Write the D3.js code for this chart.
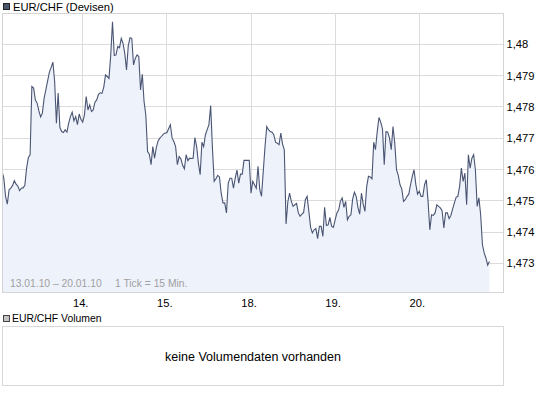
<!DOCTYPE html>
<html><head><meta charset="utf-8">
<script src="https://cdn.jsdelivr.net/npm/d3@7"></script>
<style>
body{margin:0;background:#fff}
svg{display:block;font-family:"Liberation Sans",Arial,sans-serif}
</style>
</head><body><svg id="c" width="545" height="395"></svg>
<script>
const title = "EUR/CHF (Devisen)";
const volumeTitle = "EUR/CHF Volumen";
const volumeNote = "keine Volumendaten vorhanden";
const rangeNote = "13.01.10 – 20.01.10";
const tickNote = "1 Tick = 15 Min.";
const dayLabels = ["13.", "14.", "15.", "18.", "19.", "20."];
const yTicks = [1.473, 1.474, 1.475, 1.476, 1.477, 1.478, 1.479, 1.48];
const yTickLabels = ["1,473", "1,474", "1,475", "1,476", "1,477", "1,478", "1,479", "1,48"];
const slotsPerDay = 48;   // one sample every 30 minutes (trading days only)
const firstSlot = 2;      // first sample 13.01. 01:00
const prices = [
1.47594,1.47572,1.47514,1.47489,1.47535,1.47540,1.47549,1.47564,1.47553,1.47547,
1.47532,1.47540,1.47541,1.47549,1.47604,1.47638,1.47647,1.47865,1.47860,1.47822,
1.47812,1.47787,1.47768,1.47780,1.47828,1.47855,1.47883,1.47911,1.47926,1.47943,
1.47881,1.47748,1.47844,1.47734,1.47721,1.47718,1.47727,1.47719,1.47748,1.47769,
1.47783,1.47755,1.47769,1.47743,1.47777,1.47760,1.47751,1.47774,1.47833,1.47790,
1.47806,1.47785,1.47790,1.47815,1.47822,1.47840,1.47845,1.47843,1.47862,1.47902,
1.47897,1.47891,1.47966,1.48072,1.47964,1.47966,1.47993,1.47989,1.48019,1.48003,
1.47971,1.47918,1.47996,1.48021,1.48019,1.47934,1.47955,1.47966,1.47961,1.47854,
1.47904,1.47817,1.47774,1.47657,1.47649,1.47615,1.47673,1.47636,1.47670,1.47691,
1.47700,1.47706,1.47713,1.47716,1.47717,1.47730,1.47743,1.47700,1.47689,1.47673,
1.47615,1.47641,1.47634,1.47613,1.47602,1.47647,1.47628,1.47636,1.47635,1.47636,
1.47702,1.47673,1.47620,1.47583,1.47687,1.47673,1.47711,1.47727,1.47743,1.47804,
1.47668,1.47562,1.47570,1.47581,1.47576,1.47524,1.47493,1.47493,1.47461,1.47556,
1.47572,1.47572,1.47540,1.47572,1.47598,1.47556,1.47585,1.47585,1.47629,1.47629,
1.47629,1.47629,1.47524,1.47562,1.47551,1.47540,1.47610,1.47535,1.47514,1.47594,
1.47673,1.47737,1.47727,1.47721,1.47719,1.47711,1.47687,1.47684,1.47679,1.47716,
1.47681,1.47663,1.47426,1.47496,1.47524,1.47498,1.47482,1.47487,1.47491,1.47461,
1.47450,1.47457,1.47462,1.47503,1.47514,1.47466,1.47415,1.47397,1.47407,1.47411,
1.47379,1.47418,1.47418,1.47386,1.47479,1.47421,1.47423,1.47447,1.47418,1.47415,
1.47439,1.47461,1.47471,1.47498,1.47509,1.47479,1.47498,1.47439,1.47450,1.47455,
1.47506,1.47527,1.47514,1.47479,1.47457,1.47524,1.47489,1.47466,1.47546,1.47578,
1.47576,1.47570,1.47687,1.47663,1.47721,1.47766,1.47751,1.47730,1.47615,1.47721,
1.47719,1.47700,1.47663,1.47737,1.47684,1.47599,1.47581,1.47551,1.47538,1.47498,
1.47503,1.47514,1.47521,1.47551,1.47578,1.47599,1.47553,1.47521,1.47530,1.47514,
1.47514,1.47551,1.47567,1.47498,1.47407,1.47455,1.47453,1.47461,1.47487,1.47482,
1.47477,1.47468,1.47413,1.47461,1.47461,1.47443,1.47453,1.47473,1.47493,1.47511,
1.47514,1.47546,1.47604,1.47562,1.47588,1.47487,1.47647,1.47604,1.47636,1.47647,
1.47599,1.47482,1.47509,1.47455,1.47360,1.47333,1.47317,1.47294,1.47306
];

const svg = d3.select("#c");
const P = {left: 2.5, right: 503.5, top: 13.5, bottom: 292.5};
const crisp = v => Math.floor(v) + 0.5;

const x = d3.scaleLinear().domain([0, dayLabels.length]).range([-1.45, 503.45]);
const y = d3.scaleLinear().domain([1.47206, 1.48099]).range([292.7, 13.3]);

const data = prices.map((v, i) => ({t: (firstSlot + i) / slotsPerDay, v}));

// title
svg.append("rect").attr("x", 3.5).attr("y", 3.5).attr("width", 6).attr("height", 6)
  .attr("fill", "#4b5670").attr("stroke", "#222");
svg.append("text").attr("x", 13).attr("y", 10.5).attr("font-size", 11.2).attr("fill", "#000").text(title);

svg.append("clipPath").attr("id", "clip").append("rect")
  .attr("x", P.left).attr("y", P.top).attr("width", P.right - P.left).attr("height", P.bottom - P.top);

// grid
const g = svg.append("g").attr("shape-rendering", "crispEdges");
g.selectAll(".hy").data(yTicks).join("line")
  .attr("x1", P.left).attr("x2", P.right)
  .attr("y1", d => crisp(y(d))).attr("y2", d => crisp(y(d)))
  .attr("stroke", "#dcdcdc");
const dayTicks = d3.range(1, dayLabels.length);
g.selectAll(".vx").data(dayTicks).join("line")
  .attr("y1", P.top).attr("y2", P.bottom)
  .attr("x1", d => crisp(x(d))).attr("x2", d => crisp(x(d)))
  .attr("stroke", "#dcdcdc");

// area + line
const plot = svg.append("g").attr("clip-path", "url(#clip)");
plot.append("path").datum(data)
  .attr("d", d3.area().x(d => x(d.t)).y0(P.bottom).y1(d => y(d.v)))
  .attr("fill", "#eef2fb");
plot.append("path").datum(data)
  .attr("d", d3.line().x(d => x(d.t)).y(d => y(d.v)))
  .attr("fill", "none").attr("stroke", "#4a5573").attr("stroke-width", 1.1)
  .attr("stroke-linejoin", "miter");

// frame
svg.append("rect").attr("x", P.left).attr("y", P.top)
  .attr("width", P.right - P.left).attr("height", P.bottom - P.top)
  .attr("fill", "none").attr("stroke", "#d4d4d4").attr("shape-rendering", "crispEdges");

// notes in plot
svg.append("text").attr("x", 10).attr("y", 286.5).attr("font-size", 10.3).attr("fill", "#a0a0a0").text(rangeNote);
svg.append("text").attr("x", 115).attr("y", 286.5).attr("font-size", 10.3).attr("fill", "#a0a0a0").text(tickNote);

// y axis
const ya = svg.append("g").attr("transform", `translate(${P.right},0)`)
  .call(d3.axisRight(y).tickValues(yTicks).tickFormat((d, i) => yTickLabels[i]).tickSize(0).tickPadding(3));
ya.select(".domain").remove();
ya.selectAll("text").attr("font-size", 11.2).attr("font-family", "Liberation Sans, Arial, sans-serif").attr("fill", "#000");

// x axis
const xa = svg.append("g").attr("transform", `translate(0,${P.bottom})`)
  .call(d3.axisBottom(x).tickValues(dayTicks).tickFormat(d => dayLabels[d]).tickSize(0).tickPadding(7));
xa.select(".domain").remove();
xa.selectAll("text").attr("font-size", 11.2).attr("font-family", "Liberation Sans, Arial, sans-serif")
  .attr("fill", "#000").attr("dx", -2.5);

// volume panel
svg.append("rect").attr("x", 3.5).attr("y", 315.5).attr("width", 6).attr("height", 6)
  .attr("fill", "#c4c4c4").attr("stroke", "#444");
svg.append("text").attr("x", 12).attr("y", 322).attr("font-size", 10.4).attr("fill", "#000").text(volumeTitle);
svg.append("rect").attr("x", 2.5).attr("y", 326.5).attr("width", 501).attr("height", 59)
  .attr("fill", "#fff").attr("stroke", "#d8d8d8").attr("shape-rendering", "crispEdges");
svg.append("text").attr("x", 253).attr("y", 361).attr("text-anchor", "middle")
  .attr("font-size", 12.5).attr("fill", "#000").text(volumeNote);
</script>
</body></html>
